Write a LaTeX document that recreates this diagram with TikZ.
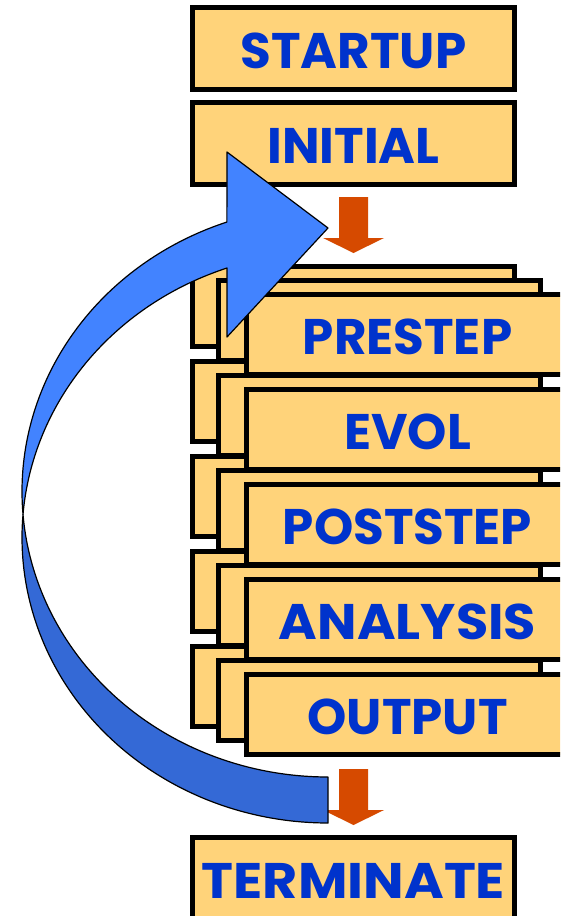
\documentclass[tikz,border=0pt]{standalone}
\usepackage{fontspec}
\setmainfont{Poppins}
\usetikzlibrary{calc}
\definecolor{boxfill}{RGB}{255,211,122}
\definecolor{txtblue}{RGB}{0,51,204}
\definecolor{arrorange}{RGB}{214,74,0}
\definecolor{bluefront}{RGB}{66,131,255}
\definecolor{blueback}{RGB}{52,105,214}
\begin{document}
\begin{tikzpicture}[x=1pt,y=-1pt,
  stepbox/.style={draw=black, line width=5pt, fill=boxfill, minimum width=322pt,
    minimum height=80pt, inner sep=0pt, text height=39pt, text depth=0pt,
    font=\fontsize{50}{50}\selectfont\bfseries, text=txtblue},
  endbox/.style={stepbox, minimum height=82pt},
  flowarrow/.style={fill=arrorange},
  loopfront/.style={fill=bluefront, draw=black, line width=1.2pt, line join=round},
  loopback/.style={fill=blueback, draw=black, line width=1.2pt, line join=round}]
\clip (0,0) rectangle (560,916);
\fill[white] (0,0) rectangle (560,916);
% top boxes
\node[endbox] (startup) at (353.5,48.5) {STARTUP};
\node[endbox] (initial) at (353.5,143.5) {INITIAL};
% back layers
\foreach \k in {1,...,5}{
  \node[stepbox] (b\k) at (353.5,{264+95*(\k-1)+42.5}) {};
}
% middle layers
\foreach \k in {1,...,5}{
  \node[stepbox] (m\k) at (379.5,{264+95*(\k-1)+56.5}) {};
}
% front layers
\node[stepbox] (f1) at (407.5,{264+28+42.5}) {PRESTEP};
\node[stepbox] (f2) at (407.5,{359+28+42.5}) {EVOL};
\node[stepbox] (f3) at (407.5,{454+28+42.5}) {POSTSTEP};
\node[stepbox] (f4) at (407.5,{549+28+42.5}) {\scalebox{1.05}[1]{ANALYSIS}};
\node[stepbox] (f5) at (407.5,{644+28+42.5}) {OUTPUT};
% bottom box
\node[endbox] (terminate) at (353.5,878.5) {\scalebox{1.08}[1]{TERMINATE}};
% orange arrows
\fill[flowarrow] ($(initial.south)+(-14.5,10)$) -- ($(initial.south)+(14.5,10)$)
  -- ($(b1.north)+(14.5,-26)$) -- ($(b1.north)+(30.5,-26)$) -- ($(b1.north)+(0,-11)$)
  -- ($(b1.north)+(-30.5,-26)$) -- ($(b1.north)+(-14.5,-26)$) -- cycle;
\fill[flowarrow] ($(b5.south)+(-14.5,40)$) -- ($(b5.south)+(14.5,40)$)
  -- ($(terminate.north)+(14.5,-25)$) -- ($(terminate.north)+(30.5,-25)$) -- ($(terminate.north)+(0,-10)$)
  -- ($(terminate.north)+(-30.5,-25)$) -- ($(terminate.north)+(-14.5,-25)$) -- cycle;
% blue loop arrow: two equal ellipses, centres (328,491.5) and (328,537.5), radii 306 x 285.5
% lower (back) part
\path[loopback]
  plot[domain=184.63:90, samples=80, smooth] ({328+306*cos(\x)},{537.5+285.5*sin(\x)})
  -- plot[domain=90:175.37, samples=80, smooth] ({328+306*cos(\x)},{491.5+285.5*sin(\x)})
  -- cycle;
% upper (front) part with head
\path[loopfront] (227,268) -- (227,337) -- (328,228) -- (227,152)
  -- plot[domain=250.7:175.37, samples=80, smooth] ({328+306*cos(\x)},{491.5+285.5*sin(\x)})
  -- plot[domain=184.63:250.7, samples=80, smooth] ({328+306*cos(\x)},{537.5+285.5*sin(\x)})
  -- cycle;
\end{tikzpicture}
\end{document}
